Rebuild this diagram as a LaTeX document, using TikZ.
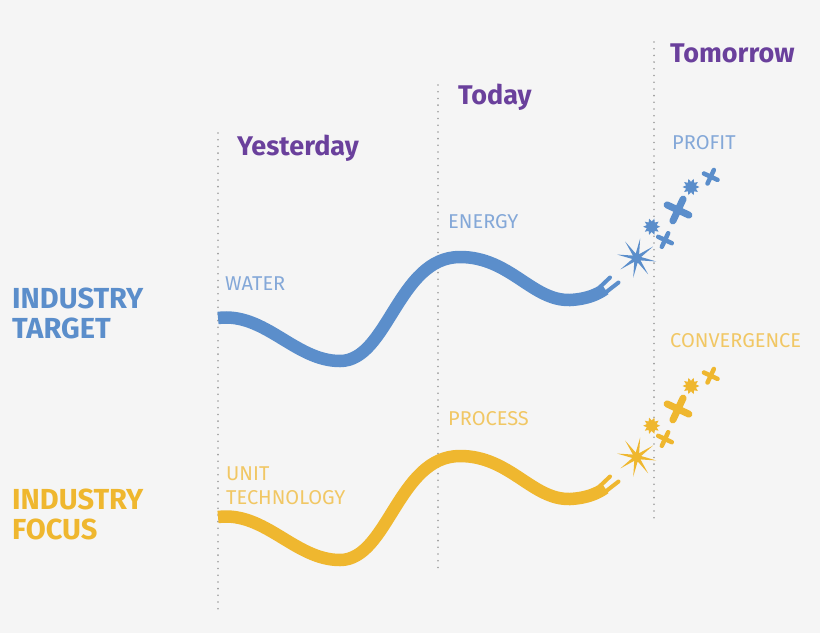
\documentclass[tikz,border=0pt]{standalone}
\usepackage{fontspec}
\usepackage{xcolor}
\usepackage{tikz}
\setmainfont{Fira Sans}

\definecolor{bgcol}{HTML}{F5F5F5}
\definecolor{tgtblue}{HTML}{5B8ECB}
\definecolor{lblblue}{HTML}{84A8D8}
\definecolor{fcsyellow}{HTML}{EFB72F}
\definecolor{lblyellow}{HTML}{F1C764}
\definecolor{timepurple}{HTML}{6A409C}
\definecolor{dotgray}{HTML}{9C9C9C}

\tikzset{
  timeline/.style={dotgray, line width=1.8pt, line cap=round, dash pattern=on 0pt off 6.7pt},
  headtext/.style={anchor=base west, inner sep=0pt, text=timepurple, font=\fontsize{27}{30}\selectfont\bfseries},
  sidetext/.style={anchor=base west, inner sep=0pt, align=left, font=\fontsize{29}{30}\selectfont\bfseries},
  steptext/.style={anchor=base west, inner sep=0pt, align=left, font=\fontsize{20}{23.5}\selectfont},
  wave/.style={line width=12.5pt, line cap=butt},
  forkend/.style={line width=4pt, line cap=round},
  crossarm/.style={line cap=round}
}

\begin{document}
\begin{tikzpicture}[x=1pt,y=-1pt]
\fill[bgcol] (0,0) rectangle (820,633);
\useasboundingbox (0,0) rectangle (820,633);

% time lines
\draw[timeline] (218,133)--(218,615);
\draw[timeline] (438,85)--(438,568);
\draw[timeline] (654,42)--(654,522);

\node[headtext] (yesterday) at (237,155) {Yesterday};
\node[headtext] (today) at (458,104) {Today};
\node[headtext] (tomorrow) at (670,62.7) {Tomorrow};

\node[sidetext, text=tgtblue] (target) at (12,338) {INDUSTRY\\TARGET};
\node[sidetext, text=fcsyellow] (focus) at (12,539) {INDUSTRY\\FOCUS};

% step labels
\node[steptext, text=lblblue] (water) at (225,290.5) {WATER};
\node[steptext, text=lblblue] (energy) at (448,228) {ENERGY};
\node[steptext, text=lblblue] (profit) at (672,149) {PROFIT};
\node[steptext, text=lblyellow] (unit) at (226,504) {UNIT\\TECHNOLOGY};
\node[steptext, text=lblyellow] (process) at (448,425) {PROCESS};
\node[steptext, text=lblyellow] (convergence) at (670,347) {CONVERGENCE};

% the two waves with their sparkles
\foreach \dy/\col in {0/tgtblue, 199/fcsyellow}{
\begin{scope}[yshift=-\dy pt, color=\col]
\draw[wave] (218,318) .. controls (265,312) and (295,361) .. (340,361)
  .. controls (388,361) and (398,257) .. (460,257)
  .. controls (510,257) and (532,301) .. (570,300)
  .. controls (588,299) and (598,294) .. (605,289);
\draw[forkend] (600,287)--(610,277.5);
\draw[forkend] (605,293)--(618.5,282.5);
% big star
\fill ([shift={(636.7,258)}]10:20) \foreach \a in {10,55,...,325}{
  -- ([shift={(636.7,258)}]\a:20) -- ([shift={(636.7,258)}]\a+22.5:4.5)} -- cycle;
% small stars
\foreach \cx/\cy in {651.7/226.7, 691/187}{
  \fill ([shift={(\cx,\cy)}]0:8.5) \foreach \a in {0,36,...,324}{
    -- ([shift={(\cx,\cy)}]\a:8.5) -- ([shift={(\cx,\cy)}]\a+18:5.2)} -- cycle;
}
% crosses
\foreach \cx/\cy/\r/\w in {665/240/7.5/4.5, 678/210/12/7, 710.7/176.7/7.5/4.5}{
  \draw[crossarm, line width=\w pt] (\cx,\cy) ++(25:\r) -- ++(205:2*\r);
  \draw[crossarm, line width=\w pt] (\cx,\cy) ++(115:\r) -- ++(295:2*\r);
}
\end{scope}
}
\end{tikzpicture}
\end{document}
